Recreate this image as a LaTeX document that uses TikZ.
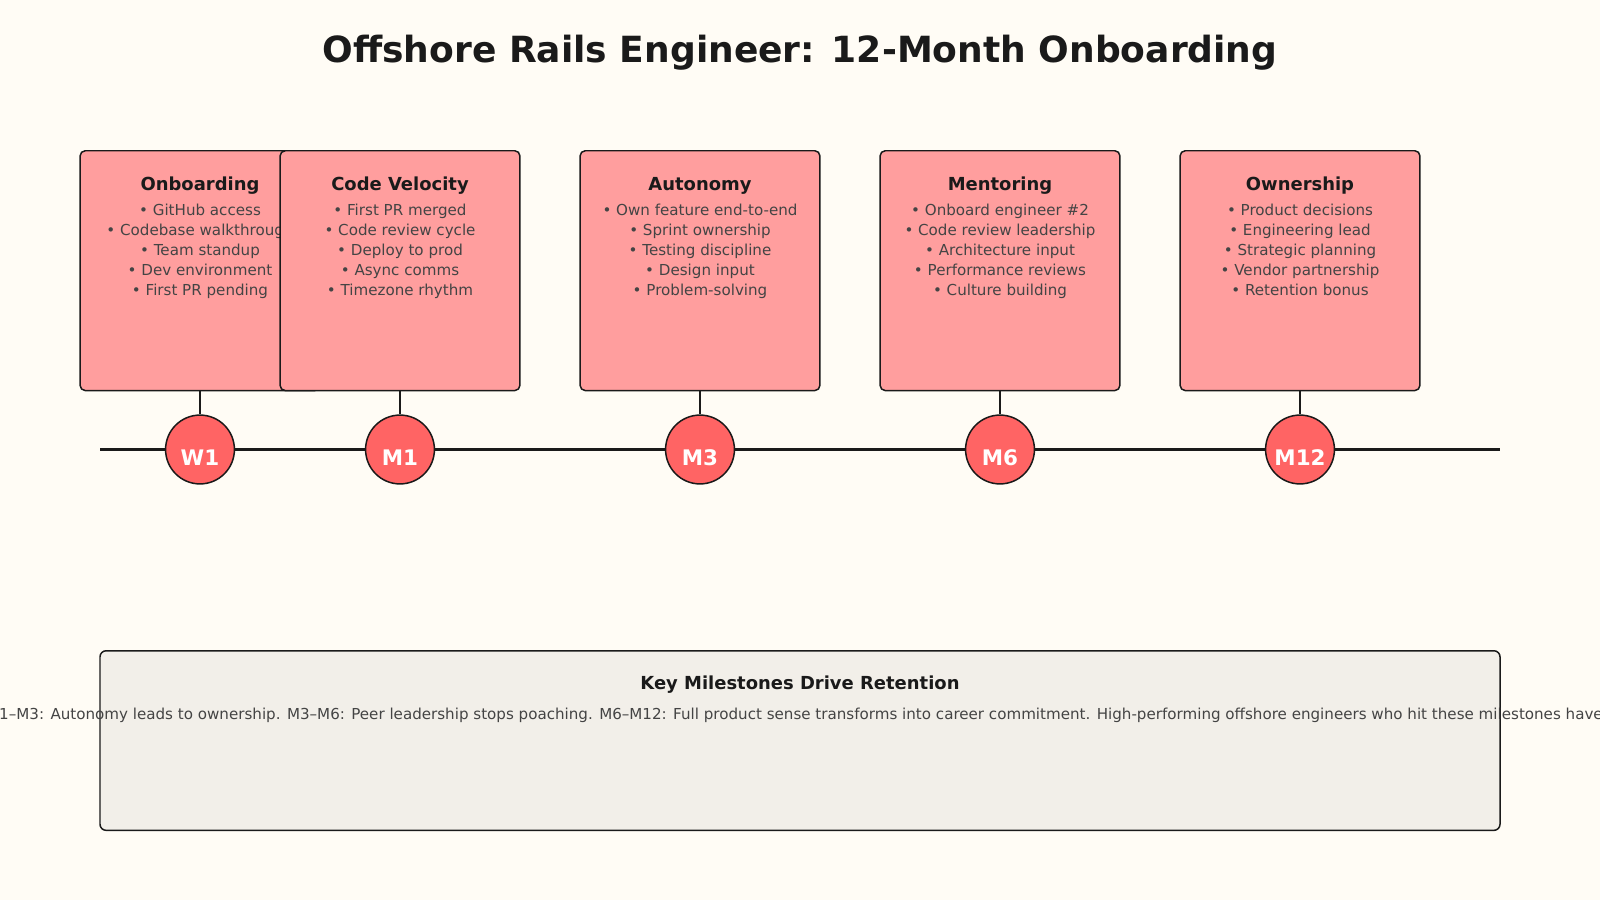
\documentclass[tikz,border=0pt]{standalone}
\usepackage{fontspec}
\setmainfont{DejaVu Sans}
\usetikzlibrary{positioning}
\definecolor{bgcream}{HTML}{FFFCF5}
\definecolor{inkdark}{HTML}{1A1A1A}
\definecolor{cardpink}{HTML}{FF9E9E}
\definecolor{dotred}{HTML}{FF6464}
\definecolor{bodygray}{HTML}{444444}
\definecolor{notebg}{HTML}{F2EFE9}
\tikzset{
  card/.style={draw=inkdark, fill=cardpink, line width=1.12pt, rounded corners=3.83pt,
    minimum width=179.85pt, minimum height=179.85pt, inner sep=0pt, anchor=north},
  cardtitle/.style={font=\bfseries\fontsize{13.47}{15}\selectfont, text=inkdark, anchor=base, inner sep=0pt},
  cardline/.style={font=\fontsize{11.33}{13}\selectfont, text=bodygray, anchor=base, inner sep=0pt},
  dot/.style={circle, draw=inkdark, fill=dotred, line width=1.12pt, minimum size=51.63pt, inner sep=0pt},
  dotlabel/.style={font=\bfseries\fontsize{16.07}{18}\selectfont, text=white, anchor=base, inner sep=0pt},
  stem/.style={draw=inkdark, line width=1.53pt},
  axis/.style={draw=inkdark, line width=2.3pt},
  notebox/.style={draw=inkdark, fill=notebg, line width=1.12pt, rounded corners=4.6pt,
    minimum width=1050pt, minimum height=134.7pt, inner sep=0pt, anchor=north},
}
\begin{document}
\begin{tikzpicture}[x=0.7653pt, y=-0.7653pt]
			%%%%% START %%%%%
			
			\fill[bgcream] (0,0) rectangle (1568,882);
			\useasboundingbox (0,0) rectangle (1568,882);
			
			\node[font=\bfseries\fontsize{27.04}{30}\selectfont, text=inkdark, anchor=base, inner sep=0pt] (heading) at (784,61) {Offshore Rails Engineer: 12-Month Onboarding};
			
			% timeline
			\coordinate (lineL) at (98,440.5);
			\coordinate (lineR) at (1470,440.5);
			\draw[axis] (lineL) -- (lineR);
			
			% W1
			\node[card] (cardW) at (196,147) {};
			\node[cardtitle] (titleW) at (196,187) {Onboarding};
			\foreach \txt [count=\i] in {GitHub access, Codebase walkthrough, Team standup, Dev environment, First PR pending}
				\node[cardline] (lineW-\i) at (196,191.5+19.7*\i) {• \txt};
			\node[dot] (dotW) at (196,440.5) {};
			\node[dotlabel] (labW) at (196,456) {W1};
			\draw[stem] (cardW.south) -- (dotW.north);
			
			% M1
			\node[card] (cardA) at (392,147) {};
			\node[cardtitle] (titleA) at (392,187) {Code Velocity};
			\foreach \txt [count=\i] in {First PR merged, Code review cycle, Deploy to prod, Async comms, Timezone rhythm}
				\node[cardline] (lineA-\i) at (392,191.5+19.7*\i) {• \txt};
			\node[dot] (dotA) at (392,440.5) {};
			\node[dotlabel] (labA) at (392,456) {M1};
			\draw[stem] (cardA.south) -- (dotA.north);
			
			% M3
			\node[card] (cardB) at (686,147) {};
			\node[cardtitle] (titleB) at (686,187) {Autonomy};
			\foreach \txt [count=\i] in {Own feature end-to-end, Sprint ownership, Testing discipline, Design input, Problem-solving}
				\node[cardline] (lineB-\i) at (686,191.5+19.7*\i) {• \txt};
			\node[dot] (dotB) at (686,440.5) {};
			\node[dotlabel] (labB) at (686,456) {M3};
			\draw[stem] (cardB.south) -- (dotB.north);
			
			% M6
			\node[card] (cardC) at (980,147) {};
			\node[cardtitle] (titleC) at (980,187) {Mentoring};
			\foreach \txt [count=\i] in {Onboard engineer \#2, Code review leadership, Architecture input, Performance reviews, Culture building}
				\node[cardline] (lineC-\i) at (980,191.5+19.7*\i) {• \txt};
			\node[dot] (dotC) at (980,440.5) {};
			\node[dotlabel] (labC) at (980,456) {M6};
			\draw[stem] (cardC.south) -- (dotC.north);
			
			% M12
			\node[card] (cardD) at (1274,147) {};
			\node[cardtitle] (titleD) at (1274,187) {Ownership};
			\foreach \txt [count=\i] in {Product decisions, Engineering lead, Strategic planning, Vendor partnership, Retention bonus}
				\node[cardline] (lineD-\i) at (1274,191.5+19.7*\i) {• \txt};
			\node[dot] (dotD) at (1274,440.5) {};
			\node[dotlabel] (labD) at (1274,456) {M12};
			\draw[stem] (cardD.south) -- (dotD.north);
			
			% summary box
			\node[notebox] (note) at (784,637) {};
			\node[cardtitle] (noteTitle) at (784,676) {Key Milestones Drive Retention};
			\node[cardline, anchor=base west] (noteText) at (-1,705) {1–M3: Autonomy leads to ownership. M3–M6: Peer leadership stops poaching. M6–M12: Full product sense transforms into career commitment. High-performing offshore engineers who hit these milestones have};
			
			%%%%% END %%%%%
\end{tikzpicture}
\end{document}
